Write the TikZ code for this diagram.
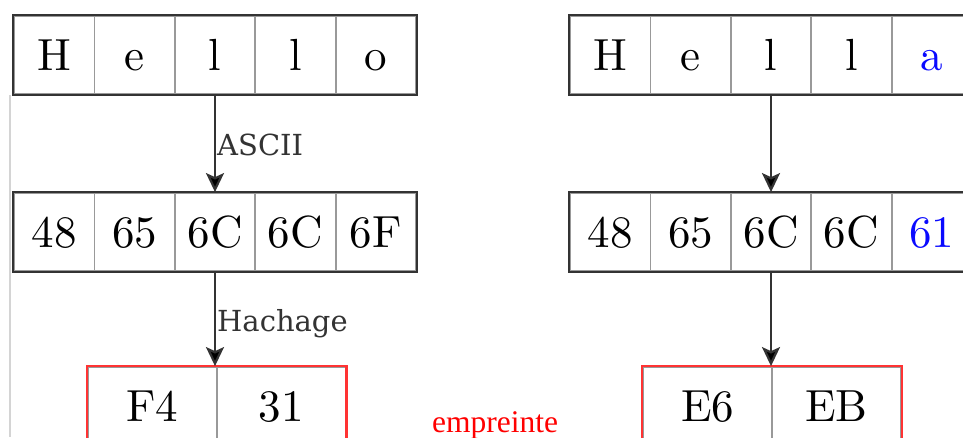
\documentclass[tikz,border=0pt]{standalone}
\usepackage{fontspec}
\newfontfamily\labelfont{DejaVu Serif}
\newfontfamily\notefont{Liberation Serif}
\newfontfamily\cellfont[Extension=.otf]{lmroman10-regular}
\usetikzlibrary{arrows.meta}

\definecolor{framegray}{HTML}{333333}
\definecolor{cellgray}{HTML}{999999}
\definecolor{edgegray}{HTML}{D4D4D4}
\definecolor{hashred}{HTML}{FF3333}
\definecolor{changeblue}{HTML}{0A0AFF}

\tikzset{
  cell/.style={draw=cellgray, line width=1.8pt, minimum width=80.4pt,
    minimum height=78pt, inner sep=0pt, text height=30.7pt, text depth=0pt,
    font=\cellfont\fontsize{45}{50}\selectfont},
  hashcell/.style={cell, minimum width=128.8pt},
  frame/.style={draw=framegray, line width=2.2pt},
  redframe/.style={draw=hashred, line width=2.2pt},
  flow/.style={draw=framegray, line width=2.2pt,
    -{Stealth[length=19pt, width=18pt, inset=4pt, fill=black]}},
  steplabel/.style={anchor=base west, inner sep=0pt, text=framegray,
    font=\labelfont\fontsize{29}{32}\selectfont},
  changed/.style={text=changeblue}
}

\begin{document}
\begin{tikzpicture}[x=1pt, y=-1pt]
  \useasboundingbox (0,0) rectangle (963,437);
  \clip (0,0) rectangle (963,437);
  \fill[white] (0,0) rectangle (963,437);

  % page edge on the left
  \draw[edgegray, line width=2pt] (10,95) -- (10,437);

  % ---- left column: "Hello" ----
  \foreach \t [count=\i] in {H,e,l,l,o}
    \node[cell] (la\i) at ({14+80.4*(\i-0.5)},55) {\t};
  \draw[frame] (la1.north west) rectangle (la5.south east);

  \foreach \t [count=\i] in {48,65,6C,6C,6F}
    \node[cell] (lb\i) at ({14+80.4*(\i-0.5)},232) {\t};
  \draw[frame] (lb1.north west) rectangle (lb5.south east);

  \node[hashcell] (lc1) at (152.4,406) {F4};
  \node[hashcell] (lc2) at (281.2,406) {31};
  \draw[redframe] (lc1.north west) rectangle (lc2.south east);

  \draw[flow] (la3.south) -- (lb3.north);
  \draw[flow] (lb3.south) -- (lb3.south |- lc1.north);
  \node[steplabel] (ascii) at (217,155) {ASCII};
  \node[steplabel] (hash) at (217,331) {Hachage};

  % ---- right column: "Hella" ----
  \foreach \t [count=\i] in {H,e,l,l}
    \node[cell] (ra\i) at ({570+80.4*(\i-0.5)},55) {\t};
  \node[cell, changed] (ra5) at ({570+80.4*4.5},55) {a};
  \draw[frame] (ra1.north west) rectangle (ra5.south east);

  \foreach \t [count=\i] in {48,65,6C,6C}
    \node[cell] (rb\i) at ({570+80.4*(\i-0.5)},232) {\t};
  \node[cell, changed] (rb5) at ({570+80.4*4.5},232) {61};
  \draw[frame] (rb1.north west) rectangle (rb5.south east);

  \node[hashcell] (rc1) at (707.6,406) {E6};
  \node[hashcell] (rc2) at (836.4,406) {EB};
  \draw[redframe] (rc1.north west) rectangle (rc2.south east);

  \draw[flow] (ra3.south) -- (rb3.north);
  \draw[flow] (rb3.south) -- (rb3.south |- rc1.north);

  % caption of the hash boxes
  \node[anchor=base west, inner sep=0pt, text=red,
        font=\notefont\fontsize{31.5}{35}\selectfont] (print) at (432,432) {empreinte};
\end{tikzpicture}
\end{document}
